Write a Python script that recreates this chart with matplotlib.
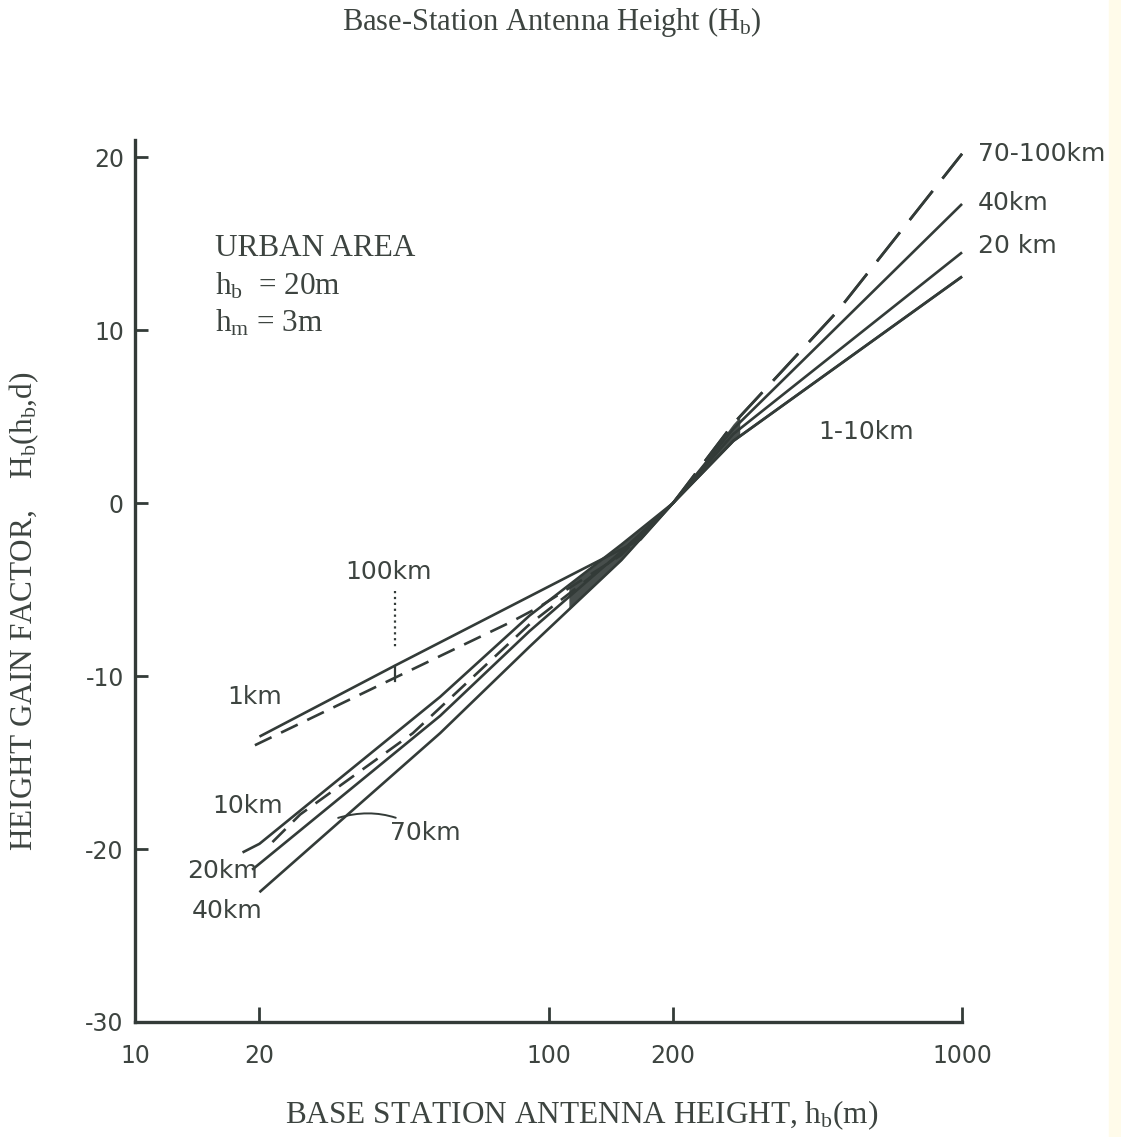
import numpy as np
import matplotlib.pyplot as plt
from matplotlib.patches import Rectangle

plt.rcParams['mathtext.fontset'] = 'custom'
plt.rcParams['mathtext.rm'] = 'Liberation Serif'
plt.rcParams['mathtext.it'] = 'Liberation Serif:italic'

# height gain curves: base station height hb (m) -> Hb (dB)
hb_1km = [20, 42.5, 119, 167, 200, 280, 1000]
H_1km = [-13.5, -9.4, -3.9, -2.1, 0, 3.6, 13.1]

hb_10km = [18.2, 20, 54.7, 90, 150, 200, 280, 1000]
H_10km = [-20.2, -19.7, -11.2, -6.5, -2.4, 0, 3.6, 13.1]

hb_20km = [19.2, 54.7, 90, 150, 200, 280, 1000]
H_20km = [-21.2, -12.3, -7.4, -2.8, 0, 4.0, 14.5]

hb_40km = [20, 54.7, 90, 150, 200, 280, 1000]
H_40km = [-22.5, -13.3, -8.3, -3.3, 0, 4.3, 17.3]

hb_70km = [21.5, 25.1, 47, 90, 150, 200, 280, 500, 1000]
H_70km = [-19.6, -18.0, -13.3, -7.0, -2.9, 0, 4.6, 11.1, 20.2]

hb_100km = [19.5, 42.5, 80.7, 95, 150, 200, 280, 500, 1000]
H_100km = [-14.0, -10.1, -6.9, -6.0, -3.0, 0, 4.6, 11.1, 20.2]

x_ticks = [10, 20, 100, 200, 1000]
y_ticks = [20, 10, 0, -10, -20, -30]

ink = '#333b38'
txt = '#3d4440'
serif = 'Liberation Serif'
sans = 'DejaVu Sans'

fig = plt.figure(figsize=(11.21, 11.37), dpi=100)
fig.patches.append(Rectangle((1109 / 1121, 0), 12 / 1121, 1, transform=fig.transFigure,
                             color='#fffbea', zorder=0))
ax = fig.add_axes([0.1204, 0.1012, 0.7378, 0.7757])
ax.set_xscale('log')
ax.set_xlim(10, 1000)
ax.set_ylim(-30, 21)

for s in ['top', 'right']:
    ax.spines[s].set_visible(False)
for s in ['left', 'bottom']:
    ax.spines[s].set_linewidth(2.4)
    ax.spines[s].set_color(ink)

ax.minorticks_off()
ax.set_xticks(x_ticks)
ax.set_xticklabels([str(v) for v in x_ticks])
ax.set_yticks(y_ticks)
ax.set_yticklabels([str(v) for v in y_ticks])
ax.tick_params(axis='y', direction='in', length=9, width=2, color=ink, pad=8,
               labelsize=17, labelcolor=txt)
ax.tick_params(axis='x', direction='in', length=11, width=2, color=ink, pad=16,
               labelsize=17, labelcolor=txt)
for lab in ax.get_xticklabels() + ax.get_yticklabels():
    lab.set_family(sans)

lw = 1.9
kw = dict(color=ink, lw=lw, clip_on=False, solid_capstyle='butt')

# solid curves
ax.plot(hb_1km, H_1km, **kw)
ax.plot(hb_10km, H_10km, **kw)
ax.plot(hb_20km, H_20km, **kw)
ax.plot(hb_40km, H_40km, **kw)

# dashed curves: short dashes below 200 m, long dashes above
for hb, H in [(hb_70km, H_70km), (hb_100km, H_100km)]:
    hb = np.array(hb)
    H = np.array(H)
    left = hb <= 200
    right = hb >= 200
    ax.plot(hb[left], H[left], ls=(0, (7, 4)), **kw)
    ax.plot(hb[right], H[right], ls=(0, (14, 6)), **kw)

# shaded bundle where the curves run together
g = np.logspace(np.log10(112), np.log10(290), 80)
lg = np.log10(g)
stack = np.array([
    np.interp(lg, np.log10(hb_10km), H_10km),
    np.interp(lg, np.log10(hb_20km), H_20km),
    np.interp(lg, np.log10(hb_40km), H_40km),
    np.interp(lg, np.log10(hb_70km), H_70km),
    np.interp(lg, np.log10(hb_100km), H_100km),
])
ax.fill_between(g, stack.min(axis=0), stack.max(axis=0), color=ink, lw=0, alpha=0.9)

# curve labels
lab = dict(family=sans, fontsize=18, color=txt, ha='left', va='center')
ax.text(1093, 20.2, '70-100km', clip_on=False, **lab)
ax.text(1093, 17.35, '40km', clip_on=False, **lab)
ax.text(1093, 14.87, '20 km', clip_on=False, **lab)
ax.text(449, 4.1, '1-10km', **lab)
ax.text(32.2, -4.0, '100km', **lab)
ax.text(16.7, -11.2, '1km', **lab)
ax.text(15.4, -17.5, '10km', **lab)
ax.text(13.4, -21.3, '20km', **lab)
ax.text(13.7, -23.6, '40km', **lab)
ax.annotate('70km', xy=(31.0, -18.2), xytext=(41.4, -19.1), **lab,
            arrowprops=dict(arrowstyle='-', color=ink, lw=1.4,
                            connectionstyle='arc3,rad=0.25', shrinkA=2, shrinkB=0))

# 100 km marker on the 1 km curve
ax.plot([42.5, 42.5], [-5.1, -8.4], ls=':', color=ink, lw=1.6)
ax.plot([42.5, 42.5], [-9.4, -10.3], color=ink, lw=1.6)

# legend block
blk = dict(family=serif, fontsize=22.5, color=txt, ha='left', va='center')
ax.text(15.6, 14.75, 'URBAN AREA', **blk)
ax.text(15.6, 12.56, r'h$_\mathrm{b}$  = 20m', **blk)
ax.text(15.6, 10.43, r'h$_\mathrm{m}$ = 3m', **blk)

fig.text(0.492, 0.981, r'Base-Station Antenna Height (H$_\mathrm{b}$)', family=serif,
         fontsize=22, color=txt, ha='center', va='center')
fig.text(0.519, 0.0193, r'BASE STATION ANTENNA HEIGHT, h$_\mathrm{b}$(m)', family=serif,
         fontsize=22.5, color=txt, ha='center', va='center')
fig.text(0.022, 0.462, r'HEIGHT GAIN FACTOR,    H$_\mathrm{b}$(h$_\mathrm{b}$,d)', family=serif,
         fontsize=22.5, color=txt, ha='center', va='center', rotation=90)

fig.savefig('out.png', dpi=100)
